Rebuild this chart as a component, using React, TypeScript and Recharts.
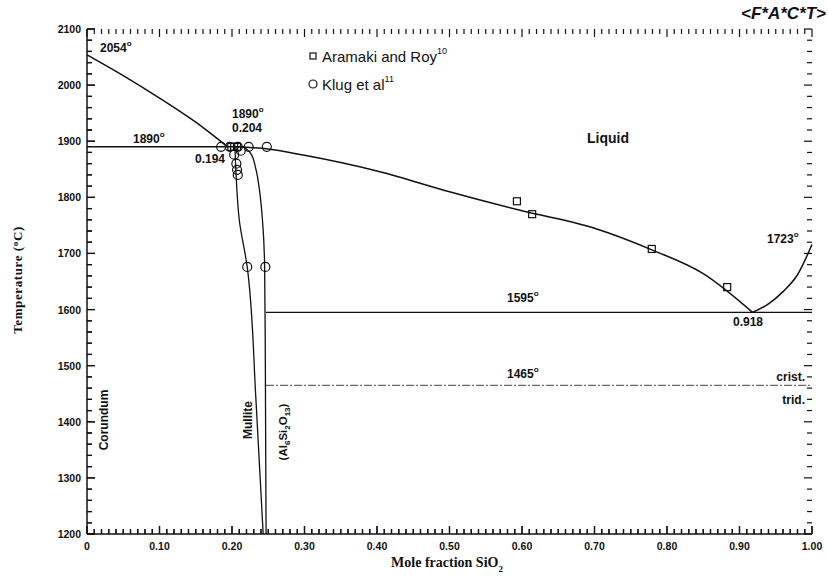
import React from "react";
import { ComposedChart, Line, Scatter, XAxis, YAxis } from "recharts";

// Al2O3–SiO2 phase diagram. Black ink on white, inward ticks on all four sides.
const INK = "#111111";
const SANS = "'Liberation Sans', Arial, sans-serif";
const SERIF = "'Liberation Serif', 'Times New Roman', serif";

const W = 828;
const H = 578;
const MARGIN = { top: 29, right: 16, bottom: 14, left: 37 };
const Y_AXIS_W = 50;
const X_AXIS_H = 30;

// axis scaffolding
const xMajor = [0, 0.1, 0.2, 0.3, 0.4, 0.5, 0.6, 0.7, 0.8, 0.9, 1.0];
const xMajorLabels = ["0", "0.10", "0.20", "0.30", "0.40", "0.50", "0.60", "0.70", "0.80", "0.90", "1.00"];
const yMajor = [1200, 1300, 1400, 1500, 1600, 1700, 1800, 1900, 2000, 2100];
const xMinor = Array.from({ length: 101 }, (_, i) => i / 100);
const yMinor = Array.from({ length: 46 }, (_, i) => 1200 + i * 20);

// phase boundaries (x = mole fraction SiO2, t = °C)
const corundumLiquidus = [
  { x: 0, t: 2054 },
  { x: 0.05, t: 2017 },
  { x: 0.1, t: 1977 },
  { x: 0.15, t: 1934 },
  { x: 0.194, t: 1890 },
];
const eutectic1890 = [
  { x: 0, t: 1890 },
  { x: 0.21, t: 1890 },
];
const mulliteLiquidus = [
  { x: 0.204, t: 1890 },
  { x: 0.25, t: 1886 },
  { x: 0.3, t: 1875 },
  { x: 0.4, t: 1847 },
  { x: 0.5, t: 1810 },
  { x: 0.6, t: 1776 },
  { x: 0.7, t: 1745 },
  { x: 0.78, t: 1706 },
  { x: 0.85, t: 1664 },
  { x: 0.918, t: 1595 },
];
const silicaLiquidus = [
  { x: 0.918, t: 1595 },
  { x: 0.94, t: 1610 },
  { x: 0.96, t: 1632 },
  { x: 0.98, t: 1662 },
  { x: 1.0, t: 1716 },
];
const mulliteLeft = [
  { x: 0.204, t: 1890 },
  { x: 0.206, t: 1831 },
  { x: 0.21, t: 1760 },
  { x: 0.221, t: 1676 },
  { x: 0.233, t: 1440 },
  { x: 0.243, t: 1200 },
];
const mulliteRight = [
  { x: 0.215, t: 1891 },
  { x: 0.226, t: 1878 },
  { x: 0.233, t: 1850 },
  { x: 0.238, t: 1812 },
  { x: 0.242, t: 1760 },
  { x: 0.245, t: 1676 },
  { x: 0.246, t: 1500 },
  { x: 0.247, t: 1200 },
];
const eutectic1595 = [
  { x: 0.247, t: 1595 },
  { x: 1.0, t: 1595 },
];
const transition1465 = [
  { x: 0.247, t: 1465 },
  { x: 1.0, t: 1465 },
];

// experimental points
const aramakiRoy = [
  { x: 0.199, t: 1890 },
  { x: 0.203, t: 1890 },
  { x: 0.207, t: 1890 },
  { x: 0.593, t: 1793 },
  { x: 0.614, t: 1770 },
  { x: 0.779, t: 1708 },
  { x: 0.883, t: 1640 },
];
const klug = [
  { x: 0.185, t: 1890 },
  { x: 0.197, t: 1890 },
  { x: 0.208, t: 1890 },
  { x: 0.223, t: 1890 },
  { x: 0.248, t: 1890 },
  { x: 0.212, t: 1883 },
  { x: 0.203, t: 1876 },
  { x: 0.206, t: 1860 },
  { x: 0.207, t: 1849 },
  { x: 0.208, t: 1840 },
  { x: 0.221, t: 1676 },
  { x: 0.246, t: 1676 },
];

const isXMajor = (v: number) => Math.round(v * 100) % 10 === 0;
const isYMajor = (v: number) => Math.round(v) % 100 === 0;

// Inward tick marks on all four frame edges, placed through the chart scales
// as tiny scatter glyphs.
const topMarks = xMinor.map((x) => ({ x, t: 2100 }));
const bottomMarks = xMinor.map((x) => ({ x, t: 1200 }));
const rightMarks = yMinor.map((t) => ({ x: 1, t }));
const leftMarks = yMinor.map((t) => ({ x: 0, t }));

const vTick = (dir: number) => (p: any) => {
  const len = isXMajor(p.payload.x) ? 8 : 5;
  return <line x1={p.cx} x2={p.cx} y1={p.cy} y2={p.cy + dir * len} stroke={INK} strokeWidth={1.2} />;
};
const hTick = (dir: number) => (p: any) => {
  const len = isYMajor(p.payload.t) ? 8 : 5;
  return <line x1={p.cx} x2={p.cx + dir * len} y1={p.cy} y2={p.cy} stroke={INK} strokeWidth={1.2} />;
};

// plot frame, same numbers the chart gets through its margins/axis sizes
const PLOT_L = MARGIN.left + Y_AXIS_W;
const PLOT_T = MARGIN.top;
const PLOT_W = W - MARGIN.right - PLOT_L;
const PLOT_H = H - MARGIN.bottom - X_AXIS_H - PLOT_T;
const px = (v: number) => PLOT_L + v * PLOT_W;
const py = (t: number) => PLOT_T + ((2100 - t) / 900) * PLOT_H;

function BottomLabel(props: any) {
  const { x, y, payload } = props;
  const i = xMajor.indexOf(payload.value);
  return (
    <text x={x} y={y + 16} textAnchor="middle" fontFamily={SANS} fontSize={10.5} fontWeight="bold" fill={INK}>
      {xMajorLabels[i]}
    </text>
  );
}

function LeftLabel(props: any) {
  const { x, y, payload } = props;
  return (
    <text x={x - 6} y={y + 4} textAnchor="end" fontFamily={SANS} fontSize={10.5} fontWeight="bold" fill={INK}>
      {payload.value}
    </text>
  );
}

const squareShape = (p: any) => (
  <rect x={p.cx - 3.5} y={p.cy - 3.5} width={7} height={7} fill="none" stroke={INK} strokeWidth={1.2} />
);
const circleShape = (p: any) => <circle cx={p.cx} cy={p.cy} r={4.5} fill="none" stroke={INK} strokeWidth={1.2} />;

const lineProps = {
  dataKey: "t",
  stroke: INK,
  strokeWidth: 1.5,
  dot: false,
  activeDot: false,
  isAnimationActive: false,
  legendType: "none" as const,
};

const axisCommon = {
  type: "number" as const,
  interval: 0,
  tickSize: 0,
  tickMargin: 0,
  stroke: INK,
  tickLine: false,
  axisLine: { stroke: INK, strokeWidth: 1.5 },
};

function Deg({ x, y, text }: { x: number; y: number; text: string }) {
  return (
    <text x={x} y={y} fontFamily={SANS} fontSize={12} fontWeight="bold" fill={INK}>
      {text}
      <tspan dy={-6} fontSize={8}>
        o
      </tspan>
    </text>
  );
}

function Annotations() {
  const t = { fontFamily: SANS, fontWeight: "bold" as const, fill: INK };
  const yBottom = py(1200);
  const xLeft = px(0);
  const bottomPath = xMinor
    .map((v) => `M${px(v).toFixed(1)} ${yBottom}V${(yBottom - (isXMajor(v) ? 8 : 5)).toFixed(1)}`)
    .join("");
  const leftPath = yMinor
    .map((v) => `M${xLeft} ${py(v).toFixed(1)}H${(xLeft + (isYMajor(v) ? 8 : 5)).toFixed(1)}`)
    .join("");
  return (
    <svg width={W} height={H} style={{ position: "absolute", left: 0, top: 0, pointerEvents: "none" }}>
      {/* inward ticks on bottom and left edges, drawn again above the chart */}
      <path d={bottomPath} stroke={INK} strokeWidth={1.3} fill="none" />
      <path d={leftPath} stroke={INK} strokeWidth={1.3} fill="none" />

      <text x={826} y={19} textAnchor="end" fontFamily={SANS} fontSize={17} fontWeight="bold" fontStyle="italic" fill={INK}>
        {"<F*A*C*T>"}
      </text>

      {/* legend */}
      <rect x={310} y={53} width={6} height={6} fill="none" stroke={INK} strokeWidth={1.2} />
      <text x={322} y={62} fontFamily={SANS} fontSize={15} fill={INK}>
        Aramaki and Roy
        <tspan dy={-8} fontSize={9}>10</tspan>
      </text>
      <circle cx={313} cy={84} r={4} fill="none" stroke={INK} strokeWidth={1.2} />
      <text x={322} y={90} fontFamily={SANS} fontSize={15} fill={INK}>
        Klug et al
        <tspan dy={-8} fontSize={9}>11</tspan>
      </text>

      <Deg x={100} y={52} text="2054" />
      <Deg x={133} y={143} text="1890" />
      <Deg x={232} y={118} text="1890" />
      <text x={232} y={132} fontSize={12} {...t}>0.204</text>
      <text x={195} y={163} fontSize={12} {...t}>0.194</text>
      <text x={587} y={143} fontSize={14} {...t}>Liquid</text>
      <Deg x={507} y={302} text="1595" />
      <Deg x={507} y={378} text="1465" />
      <text x={733} y={326} fontSize={12} {...t}>0.918</text>
      <Deg x={767} y={243} text="1723" />
      <text x={805} y={381} textAnchor="end" fontSize={12} {...t}>crist.</text>
      <text x={805} y={404} textAnchor="end" fontSize={12} {...t}>trid.</text>

      <text transform="translate(108,420) rotate(-90)" textAnchor="middle" fontSize={12} {...t}>Corundum</text>
      <text transform="translate(252,420) rotate(-90)" textAnchor="middle" fontSize={12} {...t}>Mullite</text>
      <text transform="translate(287,432) rotate(-90)" textAnchor="middle" fontSize={11.5} {...t}>
        (Al<tspan dy={3} fontSize={8}>6</tspan>
        <tspan dy={-3}>Si</tspan>
        <tspan dy={3} fontSize={8}>2</tspan>
        <tspan dy={-3}>O</tspan>
        <tspan dy={3} fontSize={8}>13</tspan>
        <tspan dy={-3}>)</tspan>
      </text>

      <text
        transform="translate(22,280) rotate(-90)"
        textAnchor="middle"
        fontFamily={SERIF}
        fontSize={13}
        letterSpacing={0.6}
        fontWeight="bold"
        fill={INK}
      >
        Temperature (<tspan dy={-4} fontSize={9}>o</tspan>
        <tspan dy={4}>C)</tspan>
      </text>
      <text x={447} y={567} textAnchor="middle" fontFamily={SERIF} fontSize={14} fontWeight="bold" fill={INK}>
        Mole fraction SiO<tspan dy={5} fontSize={9}>2</tspan>
      </text>
    </svg>
  );
}

export default function App() {
  const ids = { xAxisId: "bottom", yAxisId: "left", isAnimationActive: false };
  return (
    <div style={{ position: "absolute", left: 0, top: 0, width: W, height: H, background: "#fff" }}>
      <div style={{ position: "absolute", left: 0, top: 0 }}>
        <ComposedChart width={W} height={H} margin={MARGIN}>
          <XAxis {...axisCommon} xAxisId="bottom" dataKey="x" domain={[0, 1]} ticks={xMajor} height={X_AXIS_H} tick={<BottomLabel />} />
          <XAxis {...axisCommon} xAxisId="top" orientation="top" domain={[0, 1]} ticks={xMajor} height={0} tick={false} />
          <YAxis {...axisCommon} yAxisId="left" dataKey="t" domain={[1200, 2100]} ticks={yMajor} width={Y_AXIS_W} tick={<LeftLabel />} />
          <YAxis
            {...axisCommon}
            yAxisId="right"
            orientation="right"
            domain={[1200, 2100]}
            ticks={yMajor}
            width={0}
            tick={false}
          />

          <Scatter {...ids} data={topMarks} dataKey="t" shape={vTick(1)} />
          <Scatter {...ids} data={bottomMarks} dataKey="t" shape={vTick(-1)} />
          <Scatter {...ids} data={rightMarks} dataKey="t" shape={hTick(-1)} />
          <Scatter {...ids} data={leftMarks} dataKey="t" shape={hTick(1)} />

          <Line {...lineProps} {...ids} data={corundumLiquidus} type="monotone" />
          <Line {...lineProps} {...ids} data={eutectic1890} type="linear" />
          <Line {...lineProps} {...ids} data={mulliteLiquidus} type="monotone" />
          <Line {...lineProps} {...ids} data={silicaLiquidus} type="monotone" />
          <Line {...lineProps} {...ids} data={mulliteLeft} type="monotoneY" strokeWidth={1.3} />
          <Line {...lineProps} {...ids} data={mulliteRight} type="monotoneY" strokeWidth={1.3} />
          <Line {...lineProps} {...ids} data={eutectic1595} type="linear" strokeWidth={1.3} />
          <Line
            {...lineProps}
            {...ids}
            data={transition1465}
            type="linear"
            strokeWidth={1}
            strokeDasharray="8 2 2 2"
            stroke="#444"
          />

          <Scatter {...ids} data={aramakiRoy} dataKey="t" shape={squareShape} />
          <Scatter {...ids} data={klug} dataKey="t" shape={circleShape} />
        </ComposedChart>
      </div>
      <Annotations />
    </div>
  );
}
